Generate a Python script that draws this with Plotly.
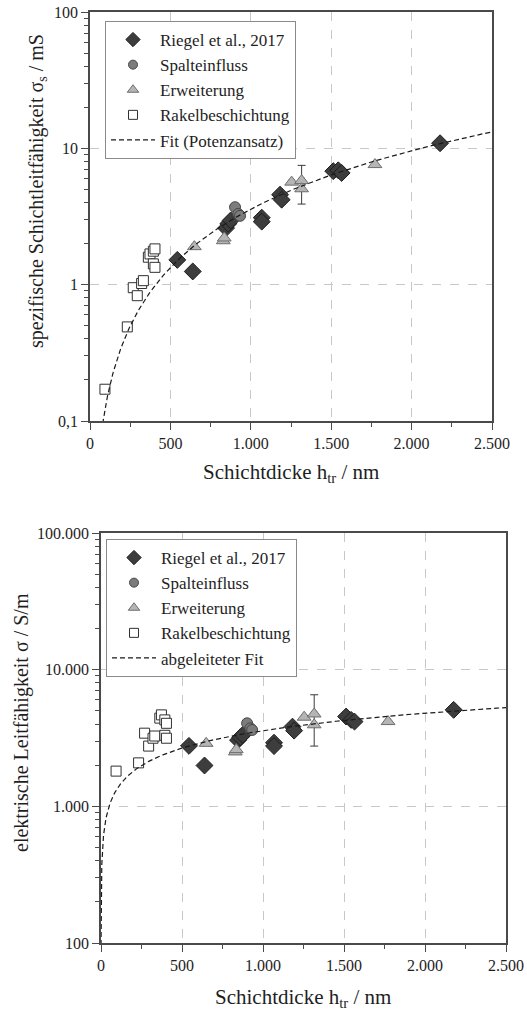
import numpy as np
import plotly.graph_objects as go

# ---------------- data ----------------
# Schichtdicke h_tr in nm, spezifische Schichtleitfähigkeit sigma_s in mS,
# elektrische Leitfähigkeit sigma in S/m
riegel_h = [2177, 1513, 1544, 1565, 1182, 1192, 1068, 1068, 846, 860, 875, 543, 639]
riegel_ss = [10.9, 6.8, 6.9, 6.6, 4.57, 4.2, 3.1, 2.9, 2.6, 2.8, 2.96, 1.52, 1.25]
riegel_s = [5080, 4540, 4290, 4170, 3830, 3580, 2920, 2760, 3050, 3200, 3330, 2770, 1990]
riegel_herr = [25, 20, 20, 20, 15, 15, 15, 15, 20, 20, 20, 15, 15]

spalt_h = [902, 922, 933]
spalt_ss = [3.7, 3.3, 3.2]
spalt_s = [4050, 3720, 3620]
spalt_herr = [20, 20, 20]

erw_h = [1772, 1254, 1316, 1316, 649, 829, 835]
erw_ss = [7.6, 5.65, 5.8, 5.05, 1.9, 2.1, 2.2]
erw_s = [4170, 4490, 4740, 3950, 2890, 2500, 2600]
erw_herr = [15, 15, 15, 15, 15, 15, 15]
erw_ss_err_hi = [0, 0, 0, 2.45, 0, 0, 0]
erw_ss_err_lo = [0, 0, 0, 1.15, 0, 0, 0]
erw_s_err_hi = [0, 0, 0, 2600, 0, 0, 0]
erw_s_err_lo = [0, 0, 0, 1190, 0, 0, 0]

rakel_h = [93, 232, 269, 294, 321, 332, 363, 373, 394, 404, 394, 404]
rakel_ss = [0.171, 0.49, 0.95, 0.83, 1.02, 1.07, 1.59, 1.68, 1.76, 1.83, 1.42, 1.34]
rakel_s = [1810, 2080, 3430, 2760, 3150, 3270, 4420, 4670, 4290, 4050, 3310, 3150]
rakel_herr = [20, 20, 20, 20, 20, 20, 20, 20, 20, 20, 20, 20]

# Potenzansatz sigma_s = A * (h / 1000 nm)^B  (mS)
fit_A = 3.58
fit_B = 1.424

x_ticks = [0, 500, 1000, 1500, 2000, 2500]
x_ticktext = ["0", "500", "1.000", "1.500", "2.000", "2.500"]
top_yticks = [0.1, 1, 10, 100]
top_yticktext = ["0,1", "1", "10", "100"]
bot_yticks = [100, 1000, 10000, 100000]
bot_yticktext = ["100", "1.000", "10.000", "100.000"]

# ---------------- styling ----------------
FONT = "Liberation Serif, Times New Roman, serif"
TEXT_COLOR = "#1e1e1e"
AX_COLOR = "#4a4a4a"
GRID_COLOR = "#c8c8c8"
FIT_LINE = dict(color="#1a1a1a", width=1.2, dash="5px,3px")

h_fit = np.logspace(np.log10(0.2), np.log10(2500), 400)
ss_fit = fit_A * (h_fit / 1000.0) ** fit_B
s_fit = ss_fit / h_fit * 1e6

series = [
    dict(name="Riegel et al., 2017", h=riegel_h, top=riegel_ss, bot=riegel_s, herr=riegel_herr,
         symbol="diamond", size=13, leg_size=11, fill="#3d3d3d", edge="#1e1e1e"),
    dict(name="Spalteinfluss", h=spalt_h, top=spalt_ss, bot=spalt_s, herr=spalt_herr,
         symbol="circle", size=11, leg_size=9, fill="#7c7c7c", edge="#454545"),
    dict(name="Erweiterung", h=erw_h, top=erw_ss, bot=erw_s, herr=erw_herr,
         symbol="triangle-up", size=12, leg_size=10, fill="#b5b5b5", edge="#6e6e6e",
         top_err=(erw_ss_err_hi, erw_ss_err_lo), bot_err=(erw_s_err_hi, erw_s_err_lo)),
    dict(name="Rakelbeschichtung", h=rakel_h, top=rakel_ss, bot=rakel_s, herr=rakel_herr,
         symbol="square", size=10, leg_size=9, fill="#ffffff", edge="#303030"),
]

fig = go.Figure()

for xa, ya, leg, key in [("x", "y", "legend", "top"), ("x2", "y2", "legend2", "bot")]:
    for s in series:
        err_y = None
        if f"{key}_err" in s:
            hi, lo = s[f"{key}_err"]
            err_y = dict(type="data", array=hi, arrayminus=lo, symmetric=False,
                         color="#3a3a3a", thickness=1, width=4)
        fig.add_trace(go.Scatter(
            x=s["h"], y=s[key], mode="markers", name=s["name"],
            xaxis=xa, yaxis=ya, showlegend=False,
            marker=dict(symbol=s["symbol"], size=s["size"], color=s["fill"],
                        line=dict(color=s["edge"], width=1)),
            error_x=dict(type="data", array=s["herr"], color="#555555", thickness=1, width=3),
            error_y=err_y,
        ))
        # legend entry with a smaller symbol
        fig.add_trace(go.Scatter(
            x=[None], y=[None], mode="markers", name=s["name"],
            xaxis=xa, yaxis=ya, legend=leg,
            marker=dict(symbol=s["symbol"], size=s["leg_size"], color=s["fill"],
                        line=dict(color=s["edge"], width=1)),
        ))
    fig.add_trace(go.Scatter(
        x=h_fit, y=ss_fit if key == "top" else s_fit, mode="lines",
        name="Fit (Potenzansatz)" if key == "top" else "abgeleiteter Fit",
        xaxis=xa, yaxis=ya, legend=leg, line=FIT_LINE,
    ))

W, H = 527, 1011


def xdom(l, r):
    return [l / W, r / W]


def ydom(top, bottom):
    return [1 - bottom / H, 1 - top / H]


def x_axis(domain, anchor):
    return dict(
        domain=domain, anchor=anchor, range=[0, 2500], automargin=False,
        tickmode="array", tickvals=x_ticks, ticktext=x_ticktext,
        ticks="outside", ticklen=7, tickwidth=1.2, tickcolor=AX_COLOR,
        showline=True, linecolor=AX_COLOR, linewidth=1.5, mirror=True,
        showgrid=True, gridcolor=GRID_COLOR, griddash="dash", gridwidth=1,
        zeroline=False,
        tickfont=dict(family=FONT, size=16, color=TEXT_COLOR),
        minor=dict(tickvals=[250, 750, 1250, 1750, 2250], ticks="outside",
                   ticklen=4, tickcolor=AX_COLOR, showgrid=False),
    )


def y_axis(domain, anchor, rng, tickvals, ticktext):
    lo, hi = rng
    minor_vals = [m * 10 ** e for e in range(lo, hi) for m in range(2, 10)]
    return dict(
        domain=domain, anchor=anchor, type="log", range=[lo, hi], automargin=False,
        tickmode="array", tickvals=tickvals, ticktext=ticktext,
        ticks="outside", ticklen=7, tickwidth=1.2, tickcolor=AX_COLOR,
        showline=True, linecolor=AX_COLOR, linewidth=1.5, mirror=True,
        showgrid=True, gridcolor=GRID_COLOR, griddash="dash", gridwidth=1,
        zeroline=False,
        tickfont=dict(family=FONT, size=16, color=TEXT_COLOR),
        minor=dict(tickvals=minor_vals, ticks="outside", ticklen=4,
                   tickcolor=AX_COLOR, showgrid=False),
    )


legend_style = dict(
    font=dict(family=FONT, size=17, color=TEXT_COLOR),
    bgcolor="white", bordercolor="#8a8a8a", borderwidth=1,
    xanchor="left", yanchor="top", itemwidth=44, itemsizing="trace",
    tracegroupgap=0,
)


def label(text, x, y, size, angle=0):
    return dict(text=text, xref="paper", yref="paper", x=x / W, y=1 - y / H,
                xanchor="center", yanchor="middle", showarrow=False, textangle=angle,
                font=dict(family=FONT, size=size, color=TEXT_COLOR))


fig.update_layout(
    width=W, height=H,
    margin=dict(l=0, r=0, t=0, b=0, autoexpand=False),
    paper_bgcolor="white", plot_bgcolor="white",
    separators=",.",
    showlegend=True,
    xaxis=x_axis(xdom(90, 492), "y"),
    yaxis=y_axis(ydom(12, 421), "x", (-1, 2), top_yticks, top_yticktext),
    xaxis2=x_axis(xdom(101, 506), "y2"),
    yaxis2=y_axis(ydom(533, 943), "x2", (2, 5), bot_yticks, bot_yticktext),
    legend=dict(x=105 / W, y=1 - 21 / H, **legend_style),
    legend2=dict(x=106 / W, y=1 - 539 / H, **legend_style),
    annotations=[
        label("Schichtdicke h<sub>tr</sub> / nm", 291, 473, 21),
        label("spezifische Schichtleitfähigkeit σ<sub>s</sub> / mS", 37, 191, 20, -90),
        label("Schichtdicke h<sub>tr</sub> / nm", 303, 998, 21),
        label("elektrische Leitfähigkeit σ / S/m", 21, 723, 20, -90),
    ],
)

fig.write_html("out.html")
